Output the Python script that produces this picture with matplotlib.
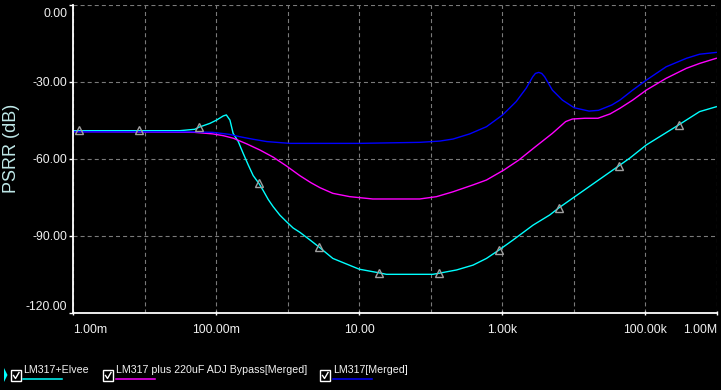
import matplotlib
matplotlib.use('Agg')

import matplotlib.pyplot as plt
from matplotlib.lines import Line2D
from matplotlib.patches import Rectangle, Polygon
from matplotlib.ticker import NullFormatter
from matplotlib.transforms import ScaledTranslation

plt.rcParams['font.family'] = ['Liberation Sans', 'DejaVu Sans']
plt.rcParams['lines.scale_dashes'] = False

# LM317+Elvee
elvee_f = [1e-3, 0.031, 0.0504, 0.0575, 0.0818, 0.1016, 0.1257, 0.139, 0.156, 0.173,
           0.204, 0.239, 0.281, 0.330, 0.396, 0.455, 0.535, 0.627, 0.778, 0.966,
           1.19, 1.48, 2.03, 2.73, 4.28, 10, 18.8, 24, 51, 107,
           129, 229, 390, 600, 900, 1413, 2690, 4590, 6140, 42300,
           60100, 103000, 291000, 572000, 977000]
elvee_db = [-49.05, -49.05, -48.5, -47.7, -46.2, -44.9, -43.3, -42.9, -44.9, -50.1,
            -53.3, -57.9, -62.4, -66.6, -69.6, -72.4, -75.9, -78.7, -82.0, -84.6,
            -87.0, -88.7, -91.6, -94.4, -98.9, -103.1, -104.5, -105.1, -105.1, -105.1,
            -104.7, -103.4, -101.5, -98.9, -95.6, -91.7, -85.9, -81.95, -79.2, -62.8,
            -59.8, -54.6, -46.8, -41.6, -39.7]

# LM317 plus 220uF ADJ Bypass[Merged]
bypass_f = [1e-3, 0.05, 0.09, 0.126, 0.174, 0.268, 0.41, 0.63, 0.96, 1.48,
            2.1, 2.83, 4.28, 7.4, 15.5, 70, 120, 204, 390, 600, 1050,
            1700, 2900, 5000, 7670, 9500, 14200, 21700, 32100, 44000, 66400,
            103000, 195000, 374000, 572000, 977000]
bypass_db = [-49.4, -49.7, -50.3, -51.0, -52.0, -54.2, -56.6, -59.4, -62.8, -66.6,
             -69.3, -71.3, -73.5, -74.8, -75.7, -75.7, -74.8, -72.9, -70.2, -68.3, -64.4,
             -60.5, -55.3, -50.1, -45.5, -44.5, -44.2, -44.2, -42.5, -40.3, -37.1,
             -33.2, -28.6, -24.7, -22.8, -20.8]

# LM317[Merged]
lm317_f = [1e-3, 0.05, 0.09, 0.155, 0.214, 0.33, 0.51, 0.78, 1.08, 10,
           70, 134, 205, 350, 600, 1010, 1560, 2150, 2660, 2900,
           3220, 3550, 3900, 5000, 6900, 10100, 16300, 22100, 34000, 44000,
           66400, 103000, 195000, 374000, 572000, 977000]
lm317_db = [-49.5, -49.5, -49.7, -50.5, -51.4, -52.4, -53.3, -53.7, -54.0, -54.0,
            -53.6, -53.1, -52.3, -50.3, -47.5, -42.9, -37.7, -32.5, -28.0, -26.7,
            -26.3, -26.7, -28.0, -33.2, -37.1, -40.1, -41.4, -41.1, -39.0, -37.1,
            -33.2, -29.3, -24.1, -20.8, -19.2, -18.5]

# triangle markers on the Elvee trace
mark_f = [1.21e-3, 8.36e-3, 0.0575, 0.396, 2.73, 18.8, 129, 891, 6140, 42300, 291000]
mark_db = [-48.8, -48.8, -47.8, -69.3, -94.6, -104.4, -104.7, -95.6, -79.2, -62.8, -46.8]

xtick_pos = [1e-3, 1e-1, 1e1, 1e3, 1e5, 1e6]
xtick_lab = ['1.00m', '100.00m', '10.00', '1.00k', '100.00k', '1.00M']
ytick_pos = [0, -30, -60, -90, -120]
ytick_lab = ['0.00', '-30.00', '-60.00', '-90.00', '-120.00']
decades = [1e-2, 1e-1, 1, 1e1, 1e2, 1e3, 1e4, 1e5, 1e6]

legend_names = ['LM317+Elvee', 'LM317 plus 220uF ADJ Bypass[Merged]', 'LM317[Merged]']
colors = ['#00ffff', '#ff00ff', '#0000ff']

W, H = 721, 390


def fx(x):
    return x / W


def fy(y):
    return 1 - y / H


fig = plt.figure(figsize=(7.21, 3.90), dpi=100, facecolor='black')
ax = fig.add_axes([fx(73), fy(312.5), (717 - 73) / W, (312.5 - 5) / H])
ax.set_facecolor('black')
ax.set_xscale('log')

ax.plot(elvee_f, elvee_db, color=colors[0], lw=1.0)
ax.plot(bypass_f, bypass_db, color=colors[1], lw=1.0)
ax.plot(lm317_f, lm317_db, color=colors[2], lw=1.0)
ax.plot(mark_f, mark_db, ls='none', marker='^', ms=5.5, mfc='none',
        mec='#a0a0a0', mew=1.0, zorder=5)

ax.set_xlim(1e-3, 1e6)
ax.set_ylim(-120, 0)

ax.set_xticks(xtick_pos)
ax.set_xticklabels(xtick_lab)
ax.set_xticks(decades, minor=True)
ax.xaxis.set_minor_formatter(NullFormatter())
ax.set_yticks(ytick_pos)
ax.set_yticklabels(ytick_lab)

grid_kw = dict(color='#7a7a7a', lw=0.8, linestyle=(0, (2.9, 2.2)))
ax.grid(True, which='both', axis='x', **grid_kw)
ax.grid(True, which='major', axis='y', **grid_kw)
ax.set_axisbelow(True)

for s in ['top', 'right']:
    ax.spines[s].set_visible(False)
for s in ['left', 'bottom']:
    ax.spines[s].set_color('white')
    ax.spines[s].set_linewidth(1.3)

ax.tick_params(axis='x', which='major', direction='inout', length=3.5, width=1,
               color='white', labelcolor='#f0f0f0', labelsize=8.8, pad=6.5)
ax.tick_params(axis='x', which='minor', length=0)
ax.tick_params(axis='y', which='major', direction='out', length=3, width=1,
               color='white', labelcolor='#f0f0f0', labelsize=8.8, pad=1)

xl = ax.get_xticklabels()
xl[0].set_ha('left')
xl[-1].set_ha('right')
yl = ax.get_yticklabels()
yl[0].set_va('top')
yl[0].set_transform(yl[0].get_transform() + ScaledTranslation(0, -2.5 / 72, fig.dpi_scale_trans))
yl[-1].set_va('bottom')

fig.text(fx(12), fy(148), 'PSRR (dB)', rotation=90, ha='center', va='center',
         color='#bfe8e8', fontsize=13)

# legend strip
fig.add_artist(Polygon([(fx(4), fy(368)), (fx(7.5), fy(375)), (fx(4), fy(382))],
                       closed=True, transform=fig.transFigure, color=colors[0], lw=0))
box_x = [11, 103, 320]
text_x = [23, 116, 333]
for bx, tx, name, c in zip(box_x, text_x, legend_names, colors):
    fig.add_artist(Rectangle((fx(bx), fy(381)), 10 / W, 11 / H, transform=fig.transFigure,
                             facecolor='black', edgecolor='white', lw=1.0))
    fig.add_artist(Line2D([fx(bx + 2.5), fx(bx + 4.5), fx(bx + 8)],
                          [fy(375.5), fy(378.5), fy(372.5)],
                          transform=fig.transFigure, color='white', lw=1.0))
    fig.text(fx(tx), fy(373), name, ha='left', va='baseline', color='#f2f2f2', fontsize=7.7)
    fig.add_artist(Line2D([fx(tx), fx(tx + 39)], [fy(378.5), fy(378.5)],
                          transform=fig.transFigure, color=c, lw=1.1))

fig.savefig('out.png', dpi=100, facecolor='black')
